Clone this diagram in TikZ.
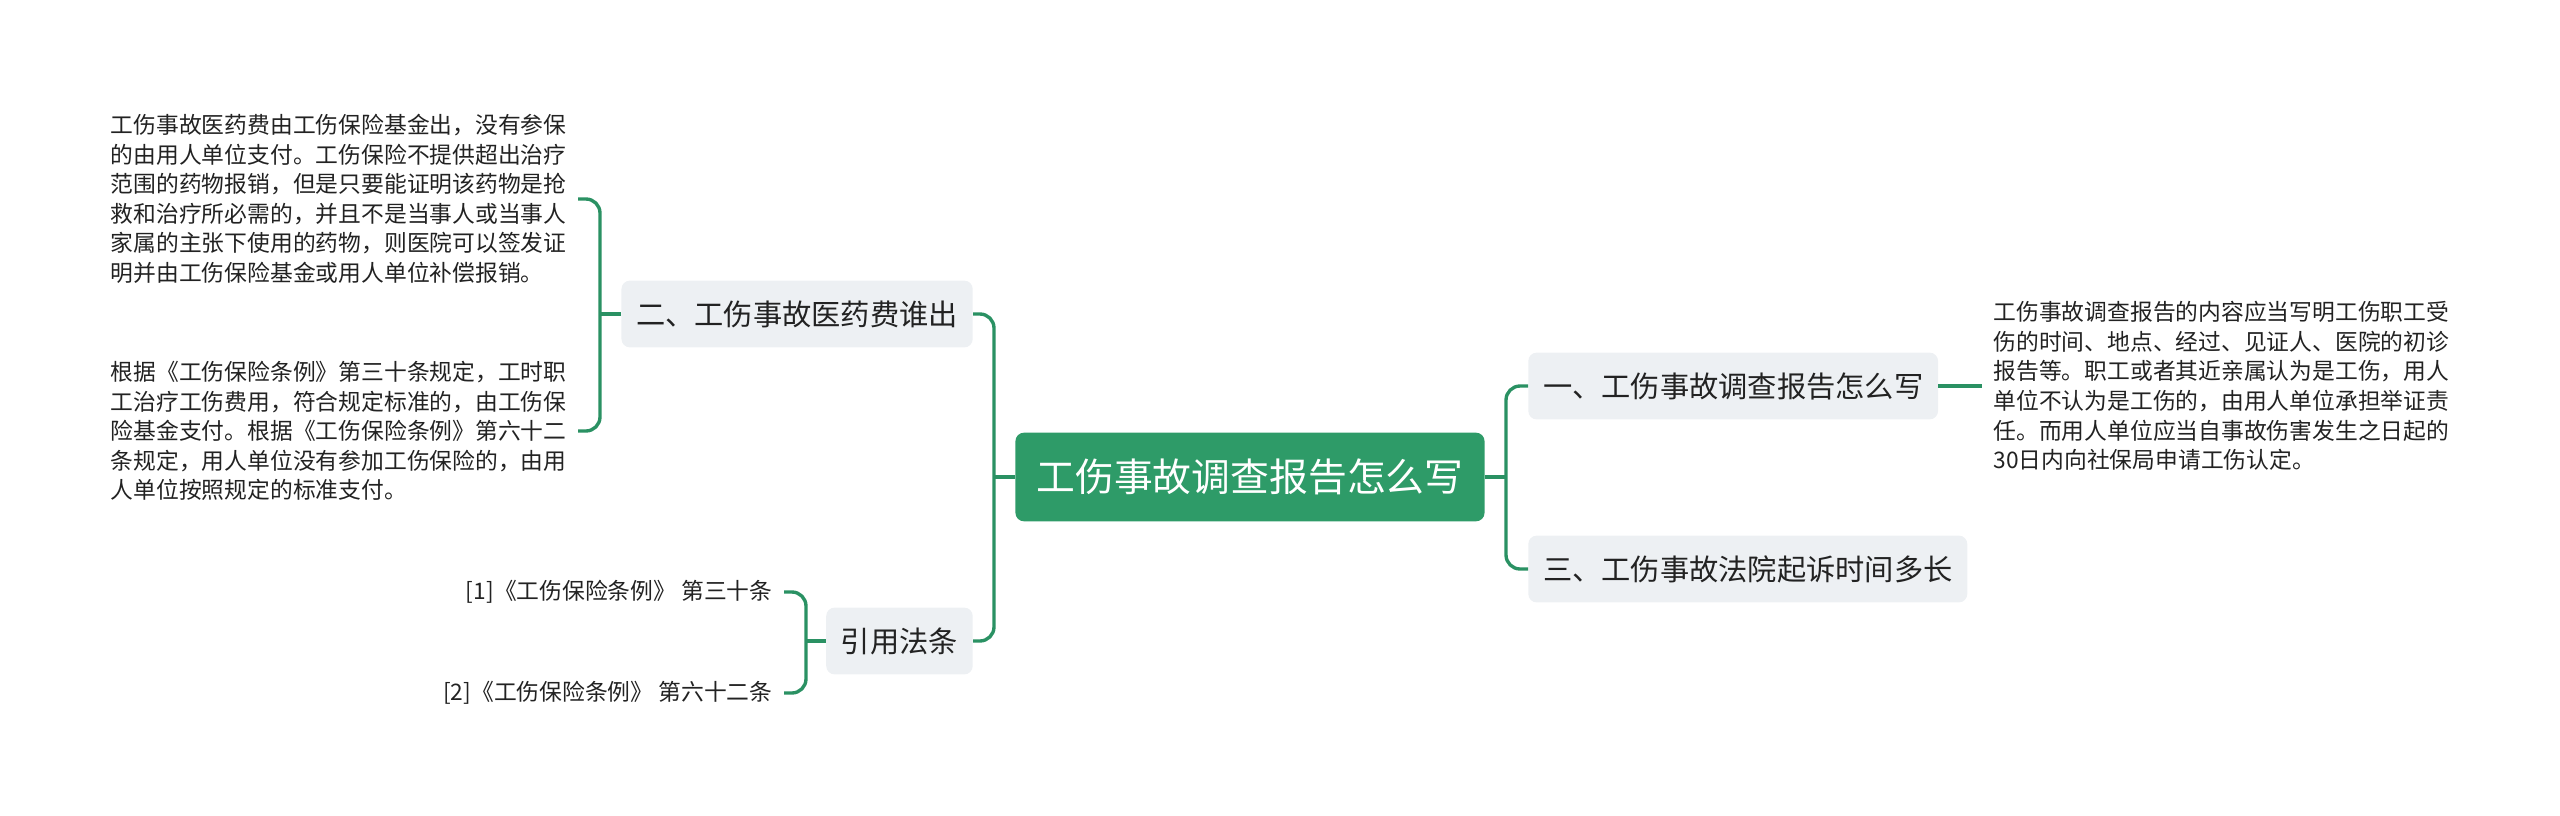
\documentclass[tikz,border=0pt]{standalone}
\usepackage{fontspec}
\newfontfamily\cjk{Noto Sans CJK SC}
\usepackage{xcolor}
\definecolor{CGreen}{HTML}{2E9B68}
\definecolor{CLine}{HTML}{2A9163}
\definecolor{CGrey}{HTML}{EDF0F3}
\definecolor{CText}{HTML}{222222}
\usepackage{tikz}
\tikzstyle{rootNode}=[rectangle, rounded corners=6pt, fill=CGreen, text=white,
  inner xsep=15pt, minimum height=63pt, font=\cjk\fontsize{27.6}{30}\selectfont]
\tikzstyle{topicNode}=[rectangle, rounded corners=6pt, fill=CGrey, text=CText,
  inner xsep=10.5pt, minimum height=47.5pt, font=\cjk\fontsize{20.8}{24}\selectfont]
\tikzstyle{leafNode}=[align=left, text=CText, inner xsep=8pt, inner ysep=2pt,
  font=\cjk\fontsize{16.2}{21}\selectfont]
\tikzstyle{link}=[line width=2.4pt, draw=CLine, rounded corners=10pt]

\begin{document}
\begin{tikzpicture}[x=0.025cm, y=-0.025cm]
\useasboundingbox (0,0) rectangle (2560,816);

\node[rootNode] (root) at (1250,477) {工伤事故调查报告怎么写};
\node[topicNode, anchor=west] (howto) at (1528,386) {一、工伤事故调查报告怎么写};
\node[topicNode, anchor=west] (court) at (1528,569) {三、工伤事故法院起诉时间多长};
\node[topicNode, anchor=east] (med) at (973,314) {二、工伤事故医药费谁出};
\node[topicNode, anchor=east] (law) at (973,641) {引用法条};

\node[leafNode, anchor=west] (howtoText) at (1982,386) {工伤事故调查报告的内容应当写明工伤职工受\\
伤的时间、地点、经过、见证人、医院的初诊\\
报告等。职工或者其近亲属认为是工伤，用人\\
单位不认为是工伤的，由用人单位承担举证责\\
任。而用人单位应当自事故伤害发生之日起的\\
30日内向社保局申请工伤认定。};
\node[leafNode, anchor=east] (medA) at (578,199) {工伤事故医药费由工伤保险基金出，没有参保\\
的由用人单位支付。工伤保险不提供超出治疗\\
范围的药物报销，但是只要能证明该药物是抢\\
救和治疗所必需的，并且不是当事人或当事人\\
家属的主张下使用的药物，则医院可以签发证\\
明并由工伤保险基金或用人单位补偿报销。};
\node[leafNode, anchor=east] (medB) at (578,431) {根据《工伤保险条例》第三十条规定，工时职\\
工治疗工伤费用，符合规定标准的，由工伤保\\
险基金支付。根据《工伤保险条例》第六十二\\
条规定，用人单位没有参加工伤保险的，由用\\
人单位按照规定的标准支付。};
\node[leafNode, anchor=east] (lawA) at (784,592) {[1]《工伤保险条例》 第三十条};
\node[leafNode, anchor=east] (lawB) at (784,693) {[2]《工伤保险条例》 第六十二条};

\coordinate (rootL) at (994,477);
\coordinate (rootR) at (1506,477);
\coordinate (medJ) at (600,314);
\coordinate (lawJ) at (806,641);

\draw[link] (root.west) -- (rootL);
\draw[link] (med.east) -| (rootL) |- (law.east);
\draw[link] (root.east) -- (rootR);
\draw[link] (howto.west) -| (rootR) |- (court.west);
\draw[link] (med.west) -- (medJ);
\draw[link] (medA.east) -| (medJ) |- (medB.east);
\draw[link] (law.west) -- (lawJ);
\draw[link] (lawA.east) -| (lawJ) |- (lawB.east);
\draw[link] (howto.east) -- (howtoText.west);
\end{tikzpicture}
\end{document}
